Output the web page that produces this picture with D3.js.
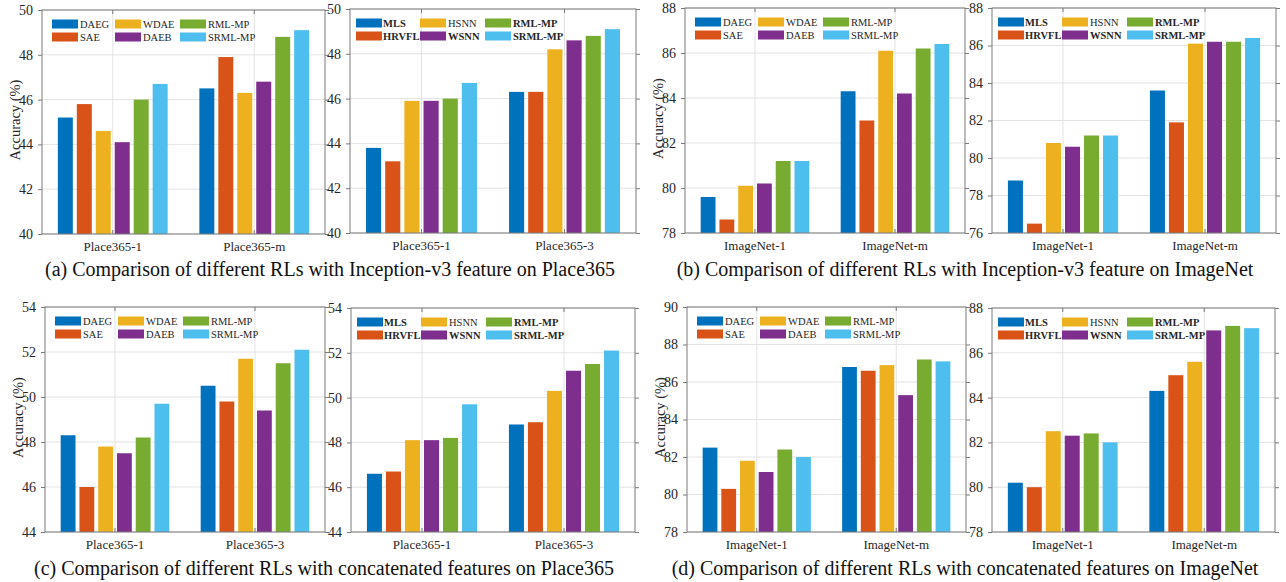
<!DOCTYPE html>
<html>
<head>
<meta charset="utf-8">
<script src="https://cdn.jsdelivr.net/npm/d3@7"></script>
<style>
  html, body { margin: 0; padding: 0; background: #fff; }
  svg, svg text { font-family: "Liberation Serif", "Times New Roman", serif !important; }
</style>
</head>
<body>
<svg id="chart" width="1286" height="582"></svg>
<script>
// ---------------- DATA ----------------
const seriesA = ["DAEG", "SAE", "WDAE", "DAEB", "RML-MP", "SRML-MP"];
const seriesB = ["MLS", "HRVFL", "HSNN", "WSNN", "RML-MP", "SRML-MP"];
const boldB = ["MLS", "HRVFL", "WSNN", "RML-MP", "SRML-MP"];

const catsPlaceM = ["Place365-1", "Place365-m"];
const catsPlace3 = ["Place365-1", "Place365-3"];
const catsImage = ["ImageNet-1", "ImageNet-m"];

// values per category: rows = category, columns = series
const valsA1 = [[45.2, 45.8, 44.6, 44.1, 46.0, 46.7], [46.5, 47.9, 46.3, 46.8, 48.8, 49.1]];
const valsA2 = [[43.8, 43.2, 45.9, 45.9, 46.0, 46.7], [46.3, 46.3, 48.2, 48.6, 48.8, 49.1]];
const valsB1 = [[79.6, 78.6, 80.1, 80.2, 81.2, 81.2], [84.3, 83.0, 86.1, 84.2, 86.2, 86.4]];
const valsB2 = [[78.8, 76.5, 80.8, 80.6, 81.2, 81.2], [83.6, 81.9, 86.1, 86.2, 86.2, 86.4]];
const valsC1 = [[48.3, 46.0, 47.8, 47.5, 48.2, 49.7], [50.5, 49.8, 51.7, 49.4, 51.5, 52.1]];
const valsC2 = [[46.6, 46.7, 48.1, 48.1, 48.2, 49.7], [48.8, 48.9, 50.3, 51.2, 51.5, 52.1]];
const valsD1 = [[82.5, 80.3, 81.8, 81.2, 82.4, 82.0], [86.8, 86.6, 86.9, 85.3, 87.2, 87.1]];
const valsD2 = [[80.2, 80.0, 82.5, 82.3, 82.4, 82.0], [84.3, 85.0, 85.6, 87.0, 87.2, 87.1]];

const domA = [40, 50], domB1 = [78, 88], domB2 = [76, 88], domC = [44, 54], domD1 = [78, 90], domD2 = [78, 88];
const yTitle = "Accuracy (%)";
const captions = [
  "(a) Comparison of different RLs with Inception-v3 feature on Place365",
  "(b) Comparison of different RLs with Inception-v3 feature on ImageNet",
  "(c) Comparison of different RLs with concatenated features on Place365",
  "(d) Comparison of different RLs with concatenated features on ImageNet"
];
const colors = ["#0072BD", "#D95319", "#EDB120", "#7E2F8E", "#77AC30", "#4DBEEE"];

// ---------------- LAYOUT ----------------
const panels = [
  {l: 42,  r: 325,  t: 10,  b: 234, cats: catsPlaceM, series: seriesA, vals: valsA1, dom: domA,  ylab: true,  leg: "A"},
  {l: 350, r: 636,  t: 9,   b: 233, cats: catsPlace3, series: seriesB, vals: valsA2, dom: domA,  ylab: false, leg: "B"},
  {l: 685, r: 965,  t: 8,   b: 233, cats: catsImage,  series: seriesA, vals: valsB1, dom: domB1, ylab: true,  leg: "A"},
  {l: 992, r: 1276, t: 8,   b: 233, cats: catsImage,  series: seriesB, vals: valsB2, dom: domB2, ylab: false, leg: "B"},
  {l: 45,  r: 325,  t: 307, b: 532, cats: catsPlace3, series: seriesA, vals: valsC1, dom: domC,  ylab: true,  leg: "A"},
  {l: 351, r: 635,  t: 308, b: 532, cats: catsPlace3, series: seriesB, vals: valsC2, dom: domC,  ylab: false, leg: "B"},
  {l: 687, r: 966,  t: 307, b: 532, cats: catsImage,  series: seriesA, vals: valsD1, dom: domD1, ylab: true,  leg: "A"},
  {l: 992, r: 1275, t: 308, b: 532, cats: catsImage,  series: seriesB, vals: valsD2, dom: domD2, ylab: false, leg: "B"}
];
const legOffsets = {
  A: {sw: [10, 73, 138], tx: [38, 101, 166]},
  B: {sw: [6, 70, 135], tx: [33, 98, 163]}
};

const FONT = '"Liberation Serif", "Times New Roman", serif';
const svg = d3.select("#chart").attr("font-family", FONT);
const axisCol = "#7a7a7a", gridCol = "#e3e3e3", textCol = "#262626";

panels.forEach(p => {
  const g = svg.append("g");
  const x0 = d3.scaleBand().domain(p.cats).range([p.l, p.r]).padding(0);
  const step = x0.step();
  const stride = 0.134 * step;
  const x1 = d3.scaleBand().domain(p.series).range([-3 * stride, 3 * stride]).paddingInner(0.21).paddingOuter(0.105);
  const y = d3.scaleLinear().domain(p.dom).range([p.b, p.t]);
  const ticks = d3.range(p.dom[0], p.dom[1] + 0.001, 2);

  // grid
  g.append("g").selectAll("line").data(ticks).join("line")
    .attr("x1", p.l).attr("x2", p.r).attr("y1", d => y(d)).attr("y2", d => y(d))
    .attr("stroke", gridCol).attr("stroke-width", 1);
  g.append("g").selectAll("line").data(p.cats).join("line")
    .attr("x1", d => x0(d) + step / 2).attr("x2", d => x0(d) + step / 2)
    .attr("y1", p.t).attr("y2", p.b)
    .attr("stroke", gridCol).attr("stroke-width", 1);

  // bars
  p.cats.forEach((c, ci) => {
    const cx = x0(c) + step / 2;
    g.append("g").selectAll("rect").data(p.series.map((s, si) => ({s, si, v: p.vals[ci][si]}))).join("rect")
      .attr("x", d => cx + x1(d.s))
      .attr("width", x1.bandwidth())
      .attr("y", d => y(d.v))
      .attr("height", d => y(p.dom[0]) - y(d.v))
      .attr("fill", d => colors[d.si]);
  });

  // axes
  const ax = d3.axisLeft(y).tickValues(ticks).tickSize(4).tickPadding(5).tickFormat(d3.format("d"));
  const ga = g.append("g").attr("transform", `translate(${p.l},0)`).call(ax).attr("font-family", FONT).attr("font-size", 14);
  ga.select(".domain").remove();
  ga.selectAll(".tick line").attr("stroke", axisCol);
  ga.selectAll(".tick text").attr("fill", textCol);

  const axr = d3.axisRight(y).tickValues(ticks).tickSize(4).tickFormat("");
  const gr = g.append("g").attr("transform", `translate(${p.r},0)`).call(axr);
  gr.select(".domain").remove();
  gr.selectAll(".tick line").attr("stroke", axisCol);

  const xa = d3.axisBottom(x0).tickSize(0).tickPadding(8);
  const gx = g.append("g").attr("transform", `translate(0,${p.b})`).call(xa).attr("font-family", FONT).attr("font-size", 13);
  gx.select(".domain").remove();
  gx.selectAll(".tick text").attr("fill", textCol);
  // inward x ticks at top and bottom
  g.append("g").selectAll("line").data(p.cats).join("line")
    .attr("x1", d => x0(d) + step / 2).attr("x2", d => x0(d) + step / 2)
    .attr("y1", p.b).attr("y2", p.b - 4).attr("stroke", axisCol);
  g.append("g").selectAll("line").data(p.cats).join("line")
    .attr("x1", d => x0(d) + step / 2).attr("x2", d => x0(d) + step / 2)
    .attr("y1", p.t).attr("y2", p.t + 4).attr("stroke", axisCol);

  // box
  g.append("rect").attr("x", p.l).attr("y", p.t).attr("width", p.r - p.l).attr("height", p.b - p.t)
    .attr("fill", "none").attr("stroke", axisCol).attr("stroke-width", 1);

  // y label
  if (p.ylab) {
    g.append("text")
      .attr("transform", `translate(${p.l - 25},${(p.t + p.b) / 2 - 2}) rotate(-90)`)
      .attr("text-anchor", "middle").attr("dominant-baseline", "middle")
      .attr("fill", textCol).attr("font-size", 14.5)
      .text(yTitle);
  }

  // legend (3 columns x 2 rows, column-major)
  const lo = legOffsets[p.leg];
  const rowsY = [p.t + 14, p.t + 27];
  const lg = g.append("g");
  p.series.forEach((s, i) => {
    const col = Math.floor(i / 2), row = i % 2;
    lg.append("rect")
      .attr("x", p.l + lo.sw[col]).attr("y", rowsY[row] - 4.5)
      .attr("width", 26).attr("height", 9)
      .attr("fill", colors[i]);
    lg.append("text")
      .attr("x", p.l + lo.tx[col]).attr("y", rowsY[row])
      .attr("dominant-baseline", "central")
      .attr("fill", textCol).attr("font-size", 10.5)
      .attr("font-weight", (p.leg === "B" && boldB.includes(s)) ? "bold" : "normal")
      .text(s);
  });
});

// captions
const capPos = [[330, 269], [965, 269], [324, 568], [965, 568]];
captions.forEach((c, i) => {
  svg.append("text")
    .attr("x", capPos[i][0]).attr("y", capPos[i][1])
    .attr("text-anchor", "middle").attr("dominant-baseline", "central")
    .attr("fill", "#111").attr("font-size", 20)
    .text(c);
});
</script>
</body>
</html>
